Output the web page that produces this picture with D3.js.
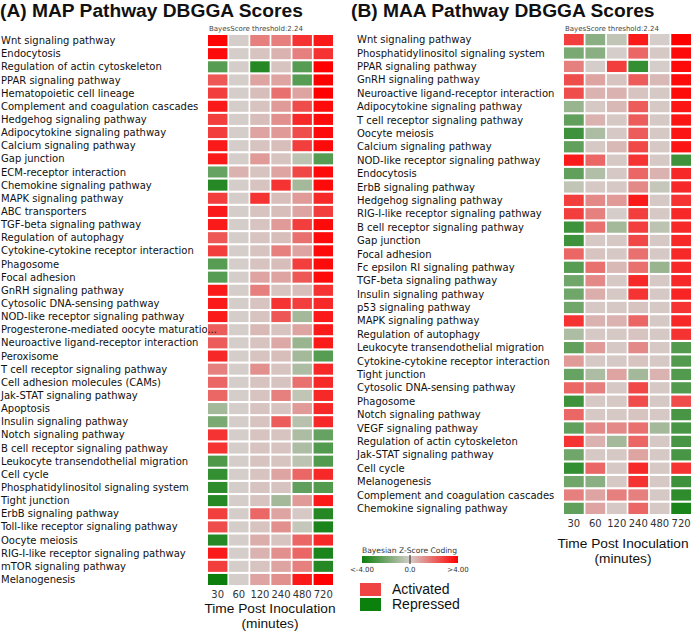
<!DOCTYPE html>
<html>
<head>
<meta charset="utf-8">
<script src="https://cdn.jsdelivr.net/npm/d3@7"></script>
<style>
  body { margin: 0; background: #fff; }
  svg { display: block; }
</style>
</head>
<body>
<svg id="chart" width="691" height="632"></svg>
<script>
const timePoints = ["30", "60", "120", "240", "480", "720"];

const mapPathways = [
  "Wnt signaling pathway", "Endocytosis", "Regulation of actin cytoskeleton", "PPAR signaling pathway",
  "Hematopoietic cell lineage", "Complement and coagulation cascades", "Hedgehog signaling pathway",
  "Adipocytokine signaling pathway", "Calcium signaling pathway", "Gap junction", "ECM-receptor interaction",
  "Chemokine signaling pathway", "MAPK signaling pathway", "ABC transporters", "TGF-beta signaling pathway",
  "Regulation of autophagy", "Cytokine-cytokine receptor interaction", "Phagosome", "Focal adhesion",
  "GnRH signaling pathway", "Cytosolic DNA-sensing pathway", "NOD-like receptor signaling pathway",
  "Progesterone-mediated oocyte maturatio...", "Neuroactive ligand-receptor interaction", "Peroxisome",
  "T cell receptor signaling pathway", "Cell adhesion molecules (CAMs)", "Jak-STAT signaling pathway",
  "Apoptosis", "Insulin signaling pathway", "Notch signaling pathway", "B cell receptor signaling pathway",
  "Leukocyte transendothelial migration", "Cell cycle", "Phosphatidylinositol signaling system",
  "Tight junction", "ErbB signaling pathway", "Toll-like receptor signaling pathway", "Oocyte meiosis",
  "RIG-I-like receptor signaling pathway", "mTOR signaling pathway", "Melanogenesis"
];

// Bayesian Z-scores per pathway at 30, 60, 120, 240, 480, 720 minutes
const mapScores = [
  [3.9, 0, 1.5, 1.5, 3.0, 3.5],
  [3.8, 0, 0.2, 0.5, 1.5, 3.0],
  [-2.5, 0, -3.5, 0.2, -2.5, 4.0],
  [2.3, 0, 0.8, 0.8, -2.5, 4.0],
  [2.8, 0, 0.3, 1.8, 0.8, 4.0],
  [3.5, 0, 0.2, 1.0, 2.5, 3.8],
  [2.8, 0, 0.3, 1.2, 3.2, 3.8],
  [2.8, 0, 0.8, 1.0, 2.5, 3.8],
  [3.5, 0, 0.2, 0.3, 2.8, 3.8],
  [3.5, 0, 1.0, 0.2, -0.5, -2.5],
  [-2.2, 0.5, 0.2, 0.8, 2.6, 3.8],
  [-3.5, 0, 0.2, 3.0, -1.0, 3.8],
  [2.8, 0, 3.0, 0.3, 1.0, 3.2],
  [3.5, 0, 0.2, 0.3, 0.8, 2.8],
  [3.5, 0, 0.2, 1.0, 2.8, 3.8],
  [2.3, 0, 0.2, 0.3, 1.8, 3.8],
  [2.8, 0, 0.2, 1.5, 0.8, 3.8],
  [-2.5, 0, 0.2, 0.3, 2.8, 3.8],
  [-2.5, 0, 0.8, 0.8, 2.3, 3.8],
  [3.5, 0, 1.5, 0.2, 0.3, 3.0],
  [3.5, 0, 0.2, 3.0, 2.8, 3.2],
  [3.5, 0, 0.2, 2.3, -1.0, 3.5],
  [2.2, 0, 0.4, 0.2, 0.8, 3.5],
  [2.2, 0, 0.2, 0.7, -1.2, 3.5],
  [3.2, 0, 0.2, 0.3, -1.0, -2.5],
  [1.5, 0, 1.2, 0.2, -0.8, 3.2],
  [2.0, 0, 0.2, 0.2, 1.8, 3.2],
  [2.0, 0, 0.2, 1.5, -0.4, 3.2],
  [-1.0, 0, 0.2, 0.2, 1.0, 3.2],
  [-1.8, 0, 0.2, 2.2, -0.6, 3.2],
  [3.0, 0, 0.2, 0.2, -0.8, -2.2],
  [3.0, 0, 0.2, 0.2, -0.8, -2.6],
  [-2.7, 0, 0.2, 0.2, -0.5, -2.6],
  [-3.2, 0, 0.2, 0.8, 2.0, 3.2],
  [-3.3, 0, 0.2, 0.2, -2.3, -2.6],
  [-3.5, 0, 0.2, -1.0, 1.0, 3.5],
  [2.8, 0, 2.0, 0.8, 0.1, -3.5],
  [2.5, 0, 0.2, 1.2, -0.3, -3.7],
  [-3.5, 0, 0.6, 0.2, 2.0, 3.2],
  [3.5, 0, 0.5, 1.2, 2.0, -3.7],
  [2.8, 0, 0.2, 0.8, 1.5, -3.5],
  [-4.0, 0, 0.8, 1.2, 3.5, 4.0]
];

const maaPathways = [
  "Wnt signaling pathway", "Phosphatidylinositol signaling system", "PPAR signaling pathway",
  "GnRH signaling pathway", "Neuroactive ligand-receptor interaction", "Adipocytokine signaling pathway",
  "T cell receptor signaling pathway", "Oocyte meiosis", "Calcium signaling pathway",
  "NOD-like receptor signaling pathway", "Endocytosis", "ErbB signaling pathway", "Hedgehog signaling pathway",
  "RIG-I-like receptor signaling pathway", "B cell receptor signaling pathway", "Gap junction", "Focal adhesion",
  "Fc epsilon RI signaling pathway", "TGF-beta signaling pathway", "Insulin signaling pathway",
  "p53 signaling pathway", "MAPK signaling pathway", "Regulation of autophagy",
  "Leukocyte transendothelial migration", "Cytokine-cytokine receptor interaction", "Tight junction",
  "Cytosolic DNA-sensing pathway", "Phagosome", "Notch signaling pathway", "VEGF signaling pathway",
  "Regulation of actin cytoskeleton", "Jak-STAT signaling pathway", "Cell cycle", "Melanogenesis",
  "Complement and coagulation cascades", "Chemokine signaling pathway"
];

const maaScores = [
  [2.8, -1.5, -0.4, 3.5, 0.0, 4.0],
  [-1.8, -1.5, 0.0, 2.0, 0.1, 3.8],
  [1.5, 0.0, 2.8, -3.2, 0.0, 3.8],
  [2.5, 0.8, 0.2, 2.2, 0.4, 3.8],
  [2.5, 0.5, 0.5, 0.2, 0.1, 3.8],
  [-1.2, 0.1, 0.4, 2.2, 0.1, 3.6],
  [-2.3, 0.5, 0.1, 2.2, 0.1, 3.6],
  [-3.0, -0.8, 0.1, 2.2, 0.1, 3.6],
  [-2.3, 0.1, 0.4, 2.6, 0.1, 3.6],
  [3.5, 2.0, 0.1, 3.0, 0.1, -3.0],
  [-2.3, -0.7, 0.1, 2.0, 0.5, 3.2],
  [-0.4, 0.1, 0.1, 1.3, -0.3, 3.2],
  [2.8, 1.3, 1.0, 3.5, 0.1, 3.0],
  [2.8, 1.5, 0.0, 2.8, 0.1, 3.2],
  [-3.0, 1.8, -1.0, 2.8, -0.5, 3.2],
  [-3.0, 0.1, 0.1, 2.6, 0.1, 3.2],
  [2.0, 0.2, 0.1, 1.8, 0.1, 3.2],
  [-2.5, 1.8, 0.4, 1.8, -1.2, 3.2],
  [-2.0, 1.3, 0.1, 3.2, 0.1, 3.2],
  [-2.0, 0.6, 0.1, 3.0, 0.1, 3.3],
  [-2.0, 0.1, 0.1, 0.2, 0.1, 3.0],
  [3.0, 0.5, 0.5, 2.0, 0.1, 3.2],
  [-0.8, 0.1, 0.1, 0.2, 0.1, 3.0],
  [-2.3, 1.0, 0.1, 1.3, 0.1, -2.6],
  [1.0, 0.1, 0.1, 0.2, 0.1, -2.6],
  [-2.2, -0.8, 0.8, -1.0, 0.5, -2.6],
  [2.0, 1.5, 0.1, 2.6, 0.1, -2.6],
  [-3.0, 0.1, 0.1, 2.5, 0.1, 2.5],
  [2.0, 0.1, 0.1, 0.2, 0.1, -2.8],
  [-2.3, 1.3, 1.3, 1.8, -1.0, -2.8],
  [3.0, 0.5, -1.0, 2.0, 0.1, -2.8],
  [-2.0, 0.1, 0.1, 0.8, 0.1, -2.8],
  [-3.2, 2.0, 0.1, 3.2, 0.1, 3.0],
  [-2.0, -1.5, 0.1, 3.0, 0.1, -3.0],
  [1.5, 0.8, 1.5, 1.5, 0.1, -3.3],
  [-2.3, 0.8, 0.1, 2.0, 0.1, -3.7]
];

const legendTicks = ["<-4.00", "0.0", ">4.00"];
const statusLabels = ["Activated", "Repressed"];

const svg = d3.select("#chart");
const color = d3.scaleLinear().domain([-4, 0, 4])
  .range(["#0c7e0c", "#d5cdc9", "#ff0000"]).clamp(true);

function heatmap(cfg) {
  const g = svg.append("g");
  const x = d3.scaleBand().domain(timePoints).range([cfg.x0, cfg.x1]).paddingInner(0.08);
  const y = d3.scaleBand().domain(cfg.rows.map((d, i) => i)).range([cfg.y0, cfg.y1]).paddingInner(0.16);

  g.append("text").attr("x", cfg.titleX).attr("y", 17)
    .attr("font-family", "Liberation Sans, Arial, sans-serif").attr("font-weight", "bold")
    .attr("font-size", 19.2).attr("fill", "#111").text(cfg.title);

  g.append("text").attr("x", cfg.x0 + 1).attr("y", 31)
    .attr("font-family", "DejaVu Sans, sans-serif").attr("font-size", 7)
    .attr("fill", "#444").text("BayesScore threshold:2.24");

  cfg.rows.forEach((row, i) => {
    g.selectAll(null).data(row).enter().append("rect")
      .attr("x", (d, j) => x(timePoints[j]))
      .attr("y", y(i))
      .attr("width", x.bandwidth())
      .attr("height", y.bandwidth())
      .attr("fill", d => color(d));
  });

  g.selectAll(null).data(cfg.names).enter().append("text")
    .attr("x", cfg.labelX)
    .attr("y", (d, i) => y(i) + y.bandwidth() / 2)
    .attr("dy", "0.36em")
    .attr("font-family", "DejaVu Sans, Verdana, sans-serif")
    .attr("font-size", 10).attr("fill", "#111")
    .text(d => d);

  const ax = g.append("g").attr("transform", `translate(0,${cfg.y1})`)
    .call(d3.axisBottom(x).tickSize(0).tickPadding(6));
  ax.select(".domain").remove();
  ax.selectAll("text").attr("font-family", "DejaVu Sans, sans-serif")
    .attr("font-size", 10).attr("fill", "#333");

  g.append("text").attr("x", cfg.axisCx).attr("y", cfg.y1 + cfg.axisDy).attr("text-anchor", "middle")
    .attr("font-family", "Liberation Sans, Arial, sans-serif").attr("font-size", 13.7)
    .attr("fill", "#111").text("Time Post Inoculation");
  g.append("text").attr("x", cfg.axisCx).attr("y", cfg.y1 + cfg.axisDy + 15).attr("text-anchor", "middle")
    .attr("font-family", "Liberation Sans, Arial, sans-serif").attr("font-size", 13.7)
    .attr("fill", "#111").text("(minutes)");
}

heatmap({ title: "(A) MAP Pathway DBGGA Scores", titleX: 0, names: mapPathways, rows: mapScores,
  x0: 208, x1: 333, y0: 35, y1: 585, labelX: 1, axisCx: 270, axisDy: 28 });
heatmap({ title: "(B) MAA Pathway DBGGA Scores", titleX: 351, names: maaPathways, rows: maaScores,
  x0: 564, x1: 691, y0: 34, y1: 514, labelX: 357, axisCx: 623, axisDy: 34 });

// Legend
const lg = svg.append("g");
const defs = svg.append("defs");
const grad = defs.append("linearGradient").attr("id", "zgrad");
[-4, 0, 4].forEach((v, i) => grad.append("stop").attr("offset", `${i * 50}%`).attr("stop-color", color(v)));
const lx = d3.scaleLinear().domain([-4, 4]).range([362, 458]);
lg.append("text").attr("x", 362).attr("y", 553).attr("font-family", "DejaVu Sans, sans-serif")
  .attr("font-size", 7.6).attr("fill", "#333").text("Bayesian Z-Score Coding");
lg.append("rect").attr("x", lx(-4)).attr("y", 556).attr("width", lx(4) - lx(-4)).attr("height", 7)
  .attr("fill", "url(#zgrad)");
lg.append("line").attr("x1", lx(0)).attr("x2", lx(0)).attr("y1", 555).attr("y2", 564)
  .attr("stroke", "#222").attr("stroke-width", 1);
lg.selectAll(null).data(legendTicks).enter().append("text")
  .attr("x", (d, i) => lx([-4, 0, 4][i]))
  .attr("y", 572).attr("text-anchor", "middle")
  .attr("font-family", "DejaVu Sans, sans-serif").attr("font-size", 7).attr("fill", "#333")
  .text(d => d);
const statusColors = ["#f04444", "#0c800c"];
statusLabels.forEach((s, i) => {
  lg.append("rect").attr("x", 360).attr("y", 583 + i * 15).attr("width", 21).attr("height", 13)
    .attr("fill", statusColors[i]);
  lg.append("text").attr("x", 392).attr("y", 594 + i * 15)
    .attr("font-family", "Liberation Sans, Arial, sans-serif").attr("font-size", 14)
    .attr("fill", "#111").text(s);
});
</script>
</body>
</html>
